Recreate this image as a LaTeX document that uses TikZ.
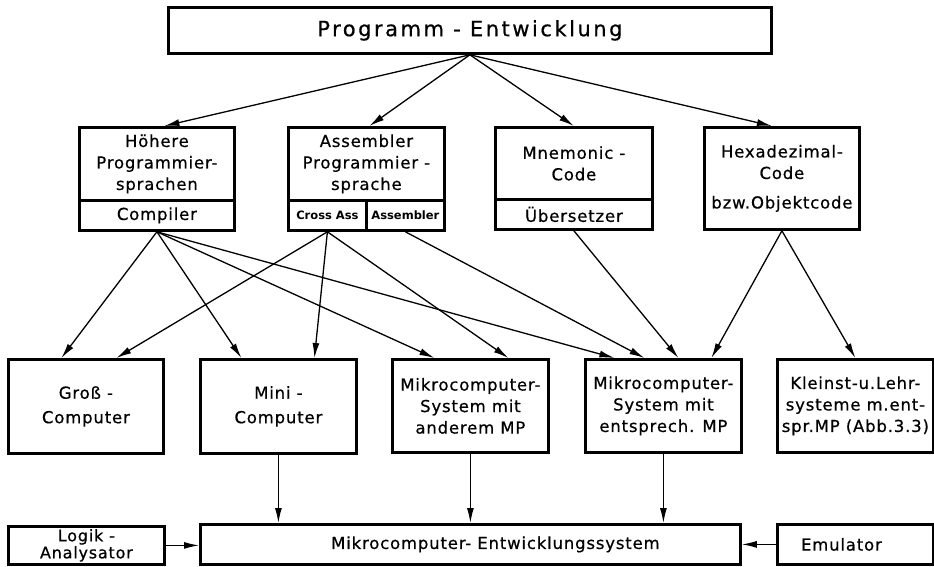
\documentclass[tikz,border=0pt]{standalone}
\usepackage{fontspec}
\setmainfont{DejaVu Sans}[LetterSpace=5, FakeBold=0.6]
\newfontfamily\titlefont{DejaVu Sans}[LetterSpace=12, FakeBold=0.6]
\newfontfamily\subfont{DejaVu Sans}[LetterSpace=0]
\usetikzlibrary{arrows.meta}

\tikzset{
  box/.style={draw, rectangle, line width=2.8pt, inner sep=0pt, anchor=north west,
    align=center, font=\fontsize{16.5}{21.5}\selectfont},
  subbox/.style={box, font=\subfont\bfseries\fontsize{11.5}{14}\selectfont},
  arr/.style={-{Latex[length=15pt,width=7pt]}, line width=1.3pt},
}

\begin{document}
\begin{tikzpicture}[x=1pt, y=-1pt]
\useasboundingbox (0,0) rectangle (934,566);

% top level
\node[box, minimum width=603pt, minimum height=46pt, font=\titlefont\fontsize{21}{24}\selectfont]
  (title) at (167,6) {Programm - Entwicklung};

% languages
\node[box, minimum width=155pt, minimum height=73pt] (hoeh) at (78,126)
  {Höhere\\Programmier-\\sprachen};
\node[box, minimum width=155pt, minimum height=30pt] (comp) at (78,199) {Compiler};

\node[box, minimum width=156pt, minimum height=73pt] (asm) at (287,126)
  {Assembler\\Programmier -\\sprache};
\node[subbox, minimum width=78pt, minimum height=30pt] (cross) at (287,199) {Cross Ass};
\node[subbox, minimum width=78pt, minimum height=30pt] (assb) at (365,199) {Assembler};

\node[box, minimum width=157pt, minimum height=72pt] (mnem) at (494,126)
  {Mnemonic -\\Code};
\node[box, minimum width=157pt, minimum height=30pt] (ueb) at (494,198) {Übersetzer};

\node[box, minimum width=155pt, minimum height=102pt] (hex) at (703,126)
  {Hexadezimal-\\Code\\[8pt]bzw.Objektcode};

% target systems
\node[box, minimum width=155pt, minimum height=94pt] (gross) at (7,358)
  {Groß -\\[3pt]Computer};
\node[box, minimum width=156pt, minimum height=94pt] (mini) at (199,358)
  {Mini -\\[3pt]Computer};
\node[box, minimum width=156pt, minimum height=93pt] (andr) at (391,358)
  {Mikrocomputer-\\System mit\\anderem MP};
\node[box, minimum width=156pt, minimum height=93pt] (ents) at (584,358)
  {Mikrocomputer-\\System mit\\entsprech. MP};
\node[box, minimum width=156pt, minimum height=93pt] (klein) at (776,358)
  {Kleinst-u.Lehr-\\systeme m.ent-\\spr.MP (Abb.3.3)};

% development system
\node[box, minimum width=156pt, minimum height=38pt, font=\fontsize{16}{17}\selectfont]
  (logik) at (7,525) {Logik -\\Analysator};
\node[box, minimum width=540pt, minimum height=40pt] (entw) at (199,523)
  {\hspace*{50pt}Mikrocomputer- Entwicklungssystem};
\node[box, minimum width=156pt, minimum height=40pt] (emu) at (776,523)
  {Emulator\hspace*{28pt}};

% program development branches
\draw[arr] (title.south) -- ([xshift=7.5pt]hoeh.north);
\draw[arr] (title.south) -- ([xshift=3pt]asm.north);
\draw[arr] (title.south) -- (mnem.north);
\draw[arr] (title.south) -- ([xshift=-10pt]hex.north);

% translators to target systems
\draw[arr] (comp.south) -- ([xshift=-24.5pt]gross.north);
\draw[arr] (comp.south) -- ([xshift=-37pt]mini.north);
\draw[arr] (comp.south) -- ([xshift=-36pt]andr.north);
\draw[arr] (comp.south) -- ([xshift=-49pt]ents.north);

\draw[arr] (cross.south) -- ([xshift=30.5pt]gross.north);
\draw[arr] (cross.south) -- ([xshift=36pt]mini.north);
\draw[arr] (cross.south) -- ([xshift=38pt]andr.north);

\draw[arr] (assb.south) -- ([xshift=-19pt]ents.north);
\draw[arr] (ueb.south) -- ([xshift=15pt]ents.north);
\draw[arr] (hex.south) -- ([xshift=48pt]ents.north);
\draw[arr] (hex.south) -- (klein.north);

% into the development system
\draw[arr] (mini.south) -- (mini.south |- entw.north);
\draw[arr] (andr.south) -- (andr.south |- entw.north);
\draw[arr] (ents.south) -- (ents.south |- entw.north);
\draw[arr] (logik.east) -- (logik.east -| entw.west);
\draw[arr] (emu.west) -- (emu.west -| entw.east);
\end{tikzpicture}
\end{document}
